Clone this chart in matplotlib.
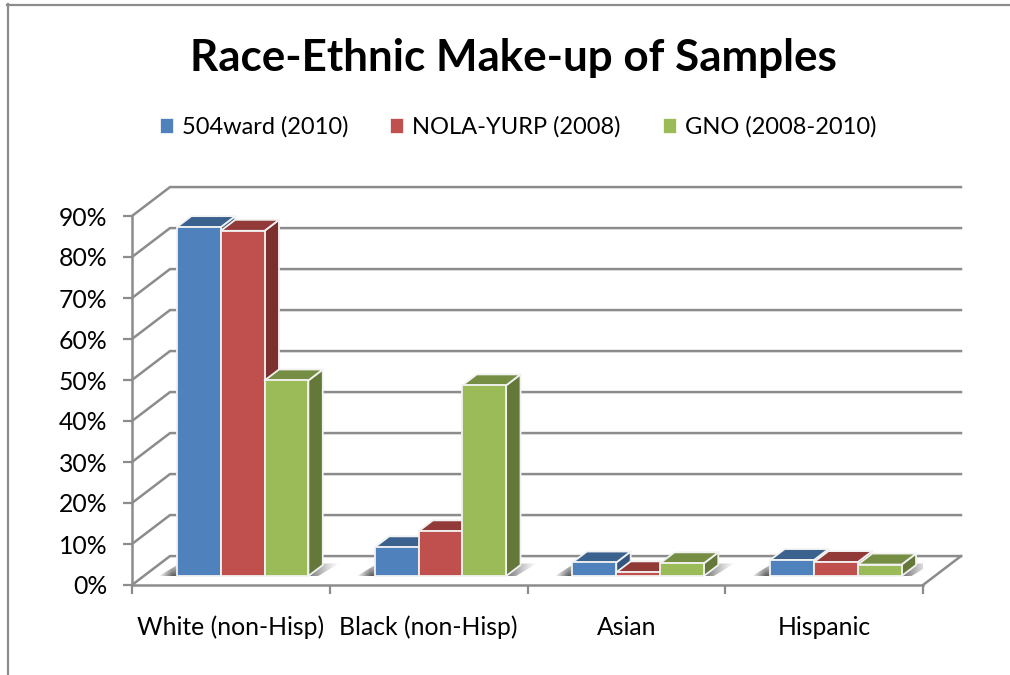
import numpy as np
import matplotlib
matplotlib.use("Agg")
import matplotlib.pyplot as plt
from matplotlib.patches import Polygon, Patch

plt.rcParams['font.family'] = ['Lato', 'DejaVu Sans']

categories = ['White (non-Hisp)', 'Black (non-Hisp)', 'Asian', 'Hispanic']
series_names = ['504ward (2010)', 'NOLA-YURP (2008)', 'GNO (2008-2010)']
ward_504 = [85.1, 7.0, 3.3, 3.9]
nola_yurp = [84.2, 10.9, 0.9, 3.4]
gno = [47.7, 46.5, 3.1, 2.8]
y_ticks = [0, 10, 20, 30, 40, 50, 60, 70, 80, 90]

front_colors = ['#4f81bd', '#c0504d', '#9bbb59']
top_colors = ['#3b618f', '#913a38', '#758e43']
side_colors = ['#345580', '#7b302e', '#64783a']
line_color = '#8c8c8c'

W, H = 1010, 675
DX = 38 / 197.75      # depth of floor, in category units
DY = 29 / 4.11        # depth of floor, in percent units
BAR_W = 43.8 / 197.75
DEPTH_FRONT = 9 / 29
DEPTH_BACK = 20 / 29


def project(x, y, d):
    return (x + d * DX, y + d * DY)


def draw_bar(ax, x0, val, k):
    x1 = x0 + BAR_W
    side = [project(x1, 0, DEPTH_FRONT), project(x1, 0, DEPTH_BACK),
            project(x1, val, DEPTH_BACK), project(x1, val, DEPTH_FRONT)]
    top = [project(x0, val, DEPTH_FRONT), project(x1, val, DEPTH_FRONT),
           project(x1, val, DEPTH_BACK), project(x0, val, DEPTH_BACK)]
    front = [project(x0, 0, DEPTH_FRONT), project(x1, 0, DEPTH_FRONT),
             project(x1, val, DEPTH_FRONT), project(x0, val, DEPTH_FRONT)]
    for pts, col in ((side, side_colors[k]), (top, top_colors[k]), (front, front_colors[k])):
        ax.add_patch(Polygon(pts, closed=True, facecolor=col, edgecolor='#f2f2f2',
                             linewidth=1.3, clip_on=False, zorder=4, joinstyle='round'))


def draw_shadow(ax, pts, grad):
    # soft floor shadow, a gradient clipped to a polygon
    xs = [p[0] for p in pts]
    ys = [p[1] for p in pts]
    rgba = np.zeros((32, 32, 4))
    rgba[..., :3] = 0.3
    rgba[..., 3] = grad
    im = ax.imshow(rgba, extent=(min(xs), max(xs), min(ys), max(ys)), origin='lower',
                   aspect='auto', zorder=3, interpolation='bilinear')
    clip = Polygon(pts, closed=True, transform=ax.transData)
    im.set_clip_path(clip)


fig = plt.figure(figsize=(W / 100, H / 100), dpi=100)
ax = fig.add_axes([132 / W, 1 - 585 / H, (923 - 132) / W, (585 - 216) / H])
ax.patch.set_visible(False)

# chart frame
fig.add_artist(plt.Line2D([7.5 / W, 7.5 / W], [0, 1 - 4 / H], color=line_color, lw=1.6))
fig.add_artist(plt.Line2D([7 / W, 1], [1 - 4.5 / H, 1 - 4.5 / H], color=line_color, lw=1.6))

# back wall and left wall gridlines
for t in y_ticks:
    ax.plot([0, DX, 4 + DX], [t, t + DY, t + DY], color=line_color, lw=1.8,
            clip_on=False, zorder=1, solid_joinstyle='miter')
ax.plot([4, 4 + DX], [0, DY], color=line_color, lw=1.8, clip_on=False, zorder=1)

# bars
series = [ward_504, nola_yurp, gno]
n = len(series)
for i in range(len(categories)):
    x_start = i + 0.5 - n * BAR_W / 2
    gx0 = project(x_start, 0, DEPTH_FRONT)[0]
    gx1 = project(x_start + n * BAR_W, 0, DEPTH_FRONT)[0]
    base = DEPTH_FRONT * DY
    u, v = np.meshgrid(np.linspace(0, 1, 32), np.linspace(0, 1, 32))
    draw_shadow(ax, [(gx0 - 0.09, base), (gx0, base), (gx0, base + 2.8)],
                np.clip(u * 1.3, 0, 1) * (1 - 0.7 * v) * 0.9)
    draw_shadow(ax, [(gx1, base), (gx1 + 0.07, base + 3.0), (gx1 + 0.16, base + 3.2),
                     (gx1 + 0.05, base)], (1 - u) ** 1.3 * 0.8)
    for k in range(n):
        draw_bar(ax, x_start + k * BAR_W, series[k][i], k)

ax.set_xlim(0, 4)
ax.set_ylim(0, 90)

for s in ('top', 'right'):
    ax.spines[s].set_visible(False)
for s in ('left', 'bottom'):
    ax.spines[s].set_color(line_color)
    ax.spines[s].set_linewidth(1.8)
    ax.spines[s].set_zorder(2)

ax.set_yticks(y_ticks)
ax.set_yticklabels(['%d%%' % t for t in y_ticks])
ax.set_xticks(range(5))
ax.set_xticklabels([])
ax.set_xticks(np.arange(len(categories)) + 0.5, categories, minor=True)
ax.tick_params(axis='both', which='major', length=6.5, width=1.6, color=line_color,
               labelsize=17.8, pad=11)
ax.tick_params(axis='x', which='minor', length=0, labelsize=17.8, pad=22)

fig.text(513 / W, 1 - 58 / H, 'Race-Ethnic Make-up of Samples', ha='center', va='center',
         fontsize=31.7, fontweight='bold', color='black')

handles = [Patch(facecolor=c, edgecolor='white', linewidth=0.5) for c in front_colors]
fig.legend(handles, series_names, ncol=3, loc='center', bbox_to_anchor=(518 / W, 1 - 127 / H),
           frameon=False, fontsize=17, handlelength=0.55, handleheight=0.55,
           handletextpad=0.38, columnspacing=1.78)

fig.savefig('out.png', dpi=100)
